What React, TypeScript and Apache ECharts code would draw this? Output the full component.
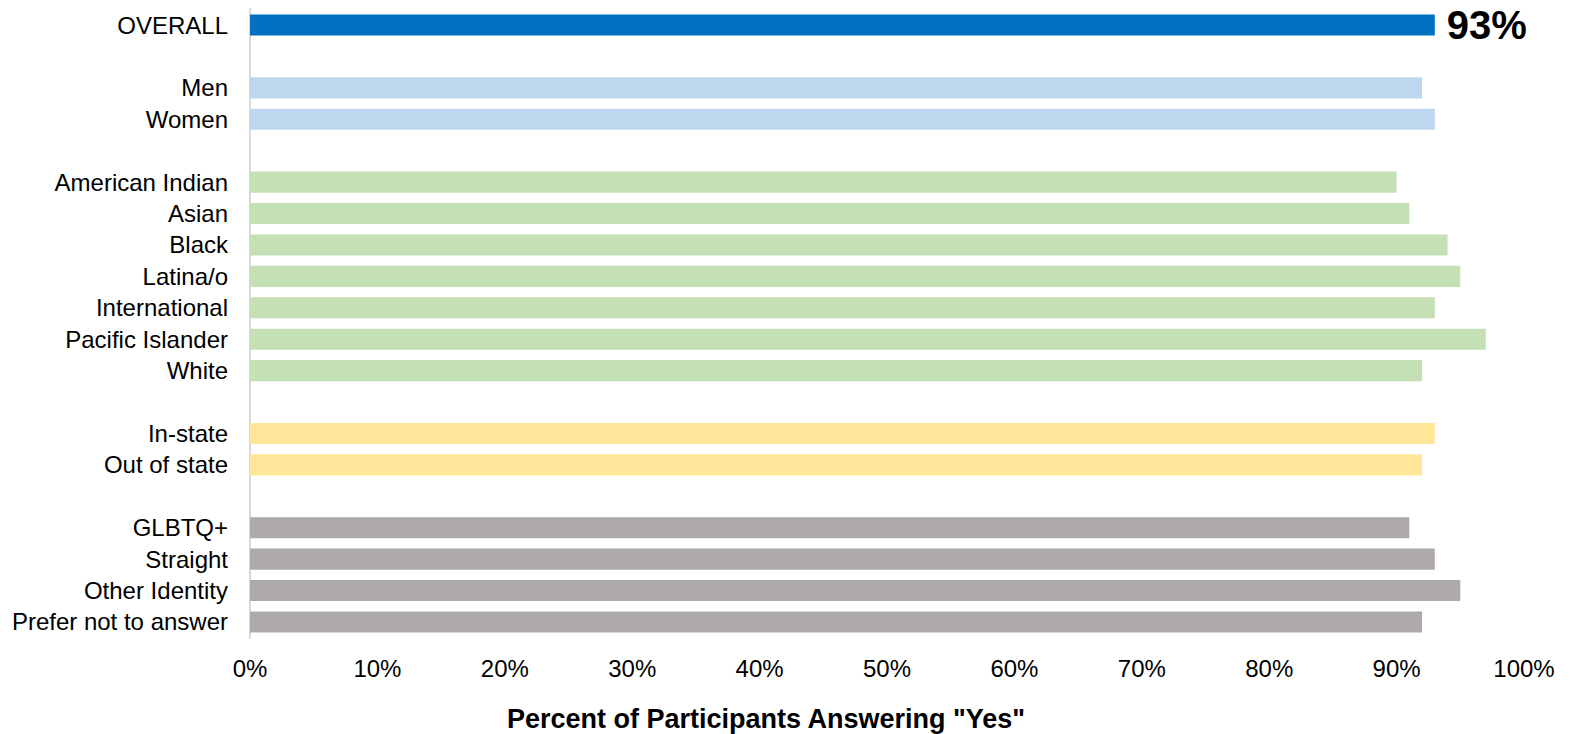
import React, { useEffect, useRef } from "react";
import * as echarts from "echarts";

const categories = [
  "OVERALL", "",
  "Men", "Women", "",
  "American Indian", "Asian", "Black", "Latina/o", "International", "Pacific Islander", "White", "",
  "In-state", "Out of state", "",
  "GLBTQ+", "Straight", "Other Identity", "Prefer not to answer",
];
const values: (number | null)[] = [
  93, null,
  92, 93, null,
  90, 91, 94, 95, 93, 97, 92, null,
  93, 92, null,
  91, 93, 95, 92,
];
const groups = [
  "overall", "",
  "gender", "gender", "",
  "race", "race", "race", "race", "race", "race", "race", "",
  "residency", "residency", "",
  "orientation", "orientation", "orientation", "orientation",
];
const xTicks = [0, 10, 20, 30, 40, 50, 60, 70, 80, 90, 100];
const axisTitle = 'Percent of Participants Answering "Yes"';

const groupColors: Record<string, string> = {
  overall: "#0070C0",
  gender: "#BDD7EE",
  race: "#C5E0B4",
  residency: "#FFE699",
  orientation: "#AEAAAA",
  "": "#ffffff",
};

const FONT = "'Liberation Sans', Arial, Helvetica, sans-serif";

export default function App() {
  const ref = useRef<HTMLDivElement>(null);
  useEffect(() => {
    document.body.style.margin = "0";
    if (!ref.current) return;
    const chart = echarts.init(ref.current, undefined, { renderer: "svg" });
    chart.setOption({
      animation: false,
      textStyle: { fontFamily: FONT },
      grid: { left: 250, right: 46, top: 9.3, bottom: 96.3, containLabel: false },
      xAxis: {
        type: "value",
        min: 0,
        max: xTicks[xTicks.length - 1],
        interval: 10,
        axisLine: { show: false },
        axisTick: { show: false },
        splitLine: { show: false },
        axisLabel: {
          formatter: (v: number) => `${v}%`,
          color: "#000",
          fontSize: 24,
          fontFamily: FONT,
          margin: 19,
        },
      },
      yAxis: {
        type: "category",
        inverse: true,
        data: categories,
        axisLine: { show: true, lineStyle: { color: "#D9D9D9", width: 2 } },
        axisTick: { show: false },
        axisLabel: { color: "#000", fontSize: 24, fontFamily: FONT, margin: 22 },
      },
      graphic: [
        {
          type: "text",
          x: 766,
          y: 719,
          style: {
            text: axisTitle,
            font: `bold 27px ${FONT}`,
            fill: "#000",
            align: "center",
            verticalAlign: "middle",
          },
        },
      ],
      series: [
        {
          type: "bar",
          barCategoryGap: "33%",
          data: values.map((v, i) => ({
            value: v,
            itemStyle: { color: groupColors[groups[i]] },
            label:
              groups[i] === "overall"
                ? {
                    show: true,
                    position: "right",
                    distance: 12,
                    formatter: "{c}%",
                    fontSize: 40,
                    fontWeight: "bold",
                    color: "#000",
                    fontFamily: FONT,
                  }
                : { show: false },
          })),
        },
      ],
    });
    return () => chart.dispose();
  }, []);
  return <div ref={ref} style={{ width: 1570, height: 734 }} />;
}
